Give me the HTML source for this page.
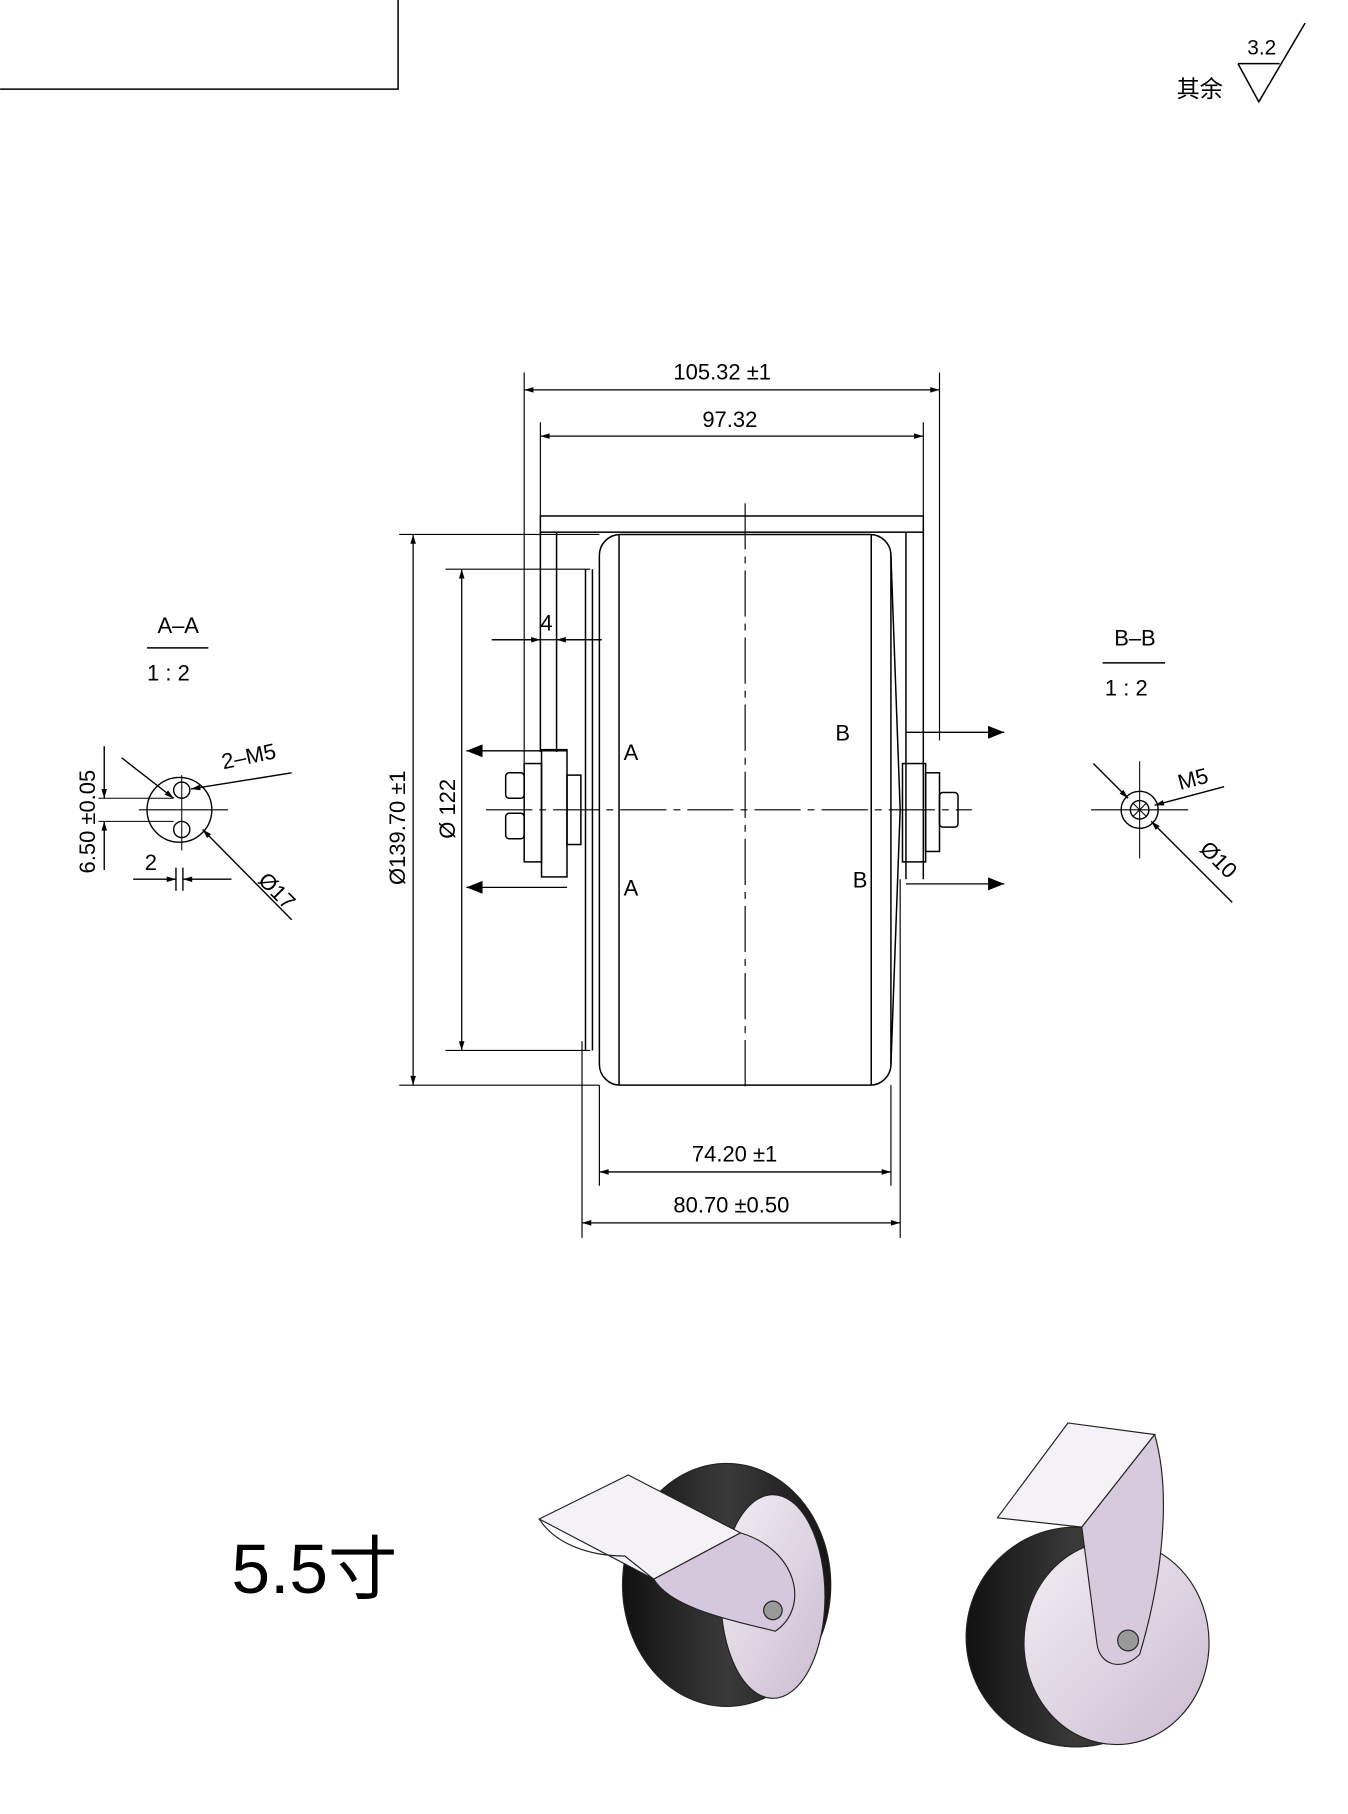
<!DOCTYPE html>
<html><head><meta charset="utf-8"><style>
html,body{margin:0;padding:0;background:#fff;}
svg{display:block;}
text{font-family:"Liberation Sans","Noto Sans CJK SC",sans-serif;fill:#000;}
.t{font-family:"Liberation Sans Narrow","Liberation Sans",sans-serif;font-size:19px;}
</style></head><body>
<svg width="1348" height="1814" viewBox="0 0 1165 1568" xmlns="http://www.w3.org/2000/svg">
<defs>
<marker id="a" viewBox="0 0 10 10" refX="10" refY="5" markerWidth="24" markerHeight="8" markerUnits="userSpaceOnUse" orient="auto-start-reverse"><path d="M0,2 L10,5 L0,8 Z" fill="#000"/></marker>
<marker id="b" viewBox="0 0 10 10" refX="10" refY="5" markerWidth="45" markerHeight="14" markerUnits="userSpaceOnUse" orient="auto"><path d="M0,1 L10,5 L0,9 Z" fill="#000"/></marker>
<linearGradient id="dk" x1="0" x2="1"><stop offset="0" stop-color="#111"/><stop offset=".5" stop-color="#3a3a3a"/><stop offset="1" stop-color="#151515"/></linearGradient>
<linearGradient id="pl" x1="0" x2="1" y1="0" y2="1"><stop offset="0" stop-color="#f3eef5"/><stop offset="1" stop-color="#cbbcd0"/></linearGradient>
</defs>
<g fill="none" stroke="#000" stroke-width="1.3">
<path d="M0,77 H344 V0"/>
<path d="M1070,55 L1088,88 L1128,20 M1070,55 H1106" />
</g>
<text x="1078" y="47" class="t" style="font-size:18px">3.2</text>
<text x="1017" y="84" style="font-size:20px">其余</text>

<g fill="none" stroke="#000" stroke-width="1.3">
<rect x="467" y="446" width="331" height="14"/>
<path d="M467,460 V650 M481,460 V650 M783,460 V760 M798,460 V760"/>
<rect x="518" y="462" width="252" height="476" rx="18"/>
<path d="M535,462 V938 M753,462 V938"/>
<path d="M506,492 V908 M512,492 V908"/>
<path d="M770,480 L778,700 L770,920"/>
<rect x="453" y="660" width="15" height="85"/>
<rect x="468" y="648" width="22" height="110"/>
<rect x="490" y="670" width="12" height="60"/>
<rect x="437" y="668" width="16" height="22" rx="3"/>
<rect x="437" y="703" width="16" height="22" rx="3"/>
<rect x="780" y="660" width="20" height="85"/>
<rect x="800" y="668" width="12" height="68"/>
<rect x="812" y="685" width="16" height="30" rx="3"/>
<path stroke-width="1" stroke-dasharray="40,6,6,6" d="M644,435 V945 M420,700 H840"/>
<g stroke-width="1">
<path d="M453,322 V660 M812,322 V640 M467,365 V446 M798,365 V446"/>
<path d="M345,462 H518 M345,938 H518 M385,492 H510 M385,908 H510"/>
<path d="M518,938 V1025 M770,938 V1025 M503,900 V1070 M778,760 V1070"/>
<path d="M425,553 H520"/>
</g>
<g stroke-width="1.1">
<path d="M453,337 H812" marker-start="url(#a)" marker-end="url(#a)"/>
<path d="M467,377 H798" marker-start="url(#a)" marker-end="url(#a)"/>
<path d="M357,462 V938" marker-start="url(#a)" marker-end="url(#a)"/>
<path d="M399,492 V908" marker-start="url(#a)" marker-end="url(#a)"/>
<path d="M518,1013 H770" marker-start="url(#a)" marker-end="url(#a)"/>
<path d="M503,1057 H778" marker-start="url(#a)" marker-end="url(#a)"/>
<path d="M425,553 H467" marker-end="url(#a)"/>
<path d="M481,553 H520" marker-start="url(#a)"/>
</g>
<g stroke-width="1.1">
<path d="M490,649 H403" marker-end="url(#b)"/>
<path d="M490,767 H403" marker-end="url(#b)"/>
<path d="M783,633 H868" marker-end="url(#b)"/>
<path d="M783,764 H868" marker-end="url(#b)"/>
</g>
</g>
<g class="t">
<text x="582" y="328" class="t">105.32 ±1</text>
<text x="607" y="369" class="t">97.32</text>
<text x="467" y="545" class="t">4</text>
<text x="598" y="1004" class="t">74.20 ±1</text>
<text x="582" y="1048" class="t">80.70 ±0.50</text>
<text x="539" y="657" class="t">A</text>
<text x="539" y="774" class="t">A</text>
<text x="722" y="640" class="t">B</text>
<text x="737" y="767" class="t">B</text>
<text transform="translate(350,765) rotate(-90)" class="t">Ø139.70 ±1</text>
<text transform="translate(393,725) rotate(-90)" class="t">Ø 122</text>
</g>

<text x="136" y="547" class="t">A–A</text>
<path d="M127,560 H180" stroke="#000" stroke-width="1.3"/>
<text x="127" y="588" class="t">1 : 2</text>
<g fill="none" stroke="#000" stroke-width="1.2">
<circle cx="155" cy="700" r="28"/>
<circle cx="157" cy="683" r="7"/>
<circle cx="157" cy="717" r="7"/>
<path d="M120,700 H197 M157,670 V735" stroke-width="0.9"/>
<path d="M85,690 H150 M85,710 H150" stroke-width="0.9"/>
<path d="M90,645 V690" marker-end="url(#a)"/>
<path d="M90,752 V710" marker-end="url(#a)"/>
<path d="M152,750 V770 M158,750 V770"/>
<path d="M115,760 H152" marker-end="url(#a)"/>
<path d="M200,760 H158" marker-end="url(#a)"/>
<path d="M105,655 L150,690" marker-end="url(#a)"/>
<path d="M252,668 L165,682" marker-end="url(#a)"/>
<path d="M252,795 L175,717" marker-end="url(#a)"/>
</g>
<text transform="translate(82,755) rotate(-90)" class="t">6.50 ±0.05</text>
<text x="125" y="752" class="t">2</text>
<text x="193" y="665" class="t" transform="rotate(-12 193 665)">2–M5</text>
<text x="222" y="762" class="t" transform="rotate(45 222 762)">Ø17</text>

<text x="963" y="558" class="t">B–B</text>
<path d="M953,573 H1007" stroke="#000" stroke-width="1.3"/>
<text x="955" y="601" class="t">1 : 2</text>
<g fill="none" stroke="#000" stroke-width="1.2">
<circle cx="985" cy="700" r="16"/>
<circle cx="985" cy="700" r="8"/>
<path d="M943,700 H1027 M985,658 V742" stroke-width="0.9"/>
<path d="M979,694 L991,706 M991,694 L979,706" stroke-width="0.9"/>
<path d="M945,660 L975,690" marker-end="url(#a)"/>
<path d="M1058,680 L998,696" marker-end="url(#a)"/>
<path d="M1065,780 L995,710" marker-end="url(#a)"/>
</g>
<text x="1020" y="683" class="t" transform="rotate(-15 1020 683)">M5</text>
<text x="1036" y="735" class="t" transform="rotate(45 1036 735)">Ø10</text>

<text x="200" y="1377" style="font-size:60px;font-family:'Liberation Sans','Noto Sans CJK SC',sans-serif">5.5寸</text>

<g stroke="#222" stroke-width="1">
<ellipse cx="628" cy="1370" rx="90" ry="105" fill="url(#dk)"/>
<ellipse cx="668" cy="1380" rx="45" ry="88" fill="url(#pl)"/>
<path d="M466,1313 L543,1275 L640,1325 L565,1365 Z" fill="#f4f2f6"/>
<path d="M565,1365 L640,1325 C690,1340 700,1390 670,1410 C630,1400 580,1390 565,1365Z" fill="#d6c8dc"/>
<path d="M466,1313 C480,1335 510,1345 540,1345 L565,1365" fill="none"/>
<circle cx="668" cy="1392" r="8" fill="#999"/>
</g>
<g stroke="#222" stroke-width="1">
<ellipse cx="930" cy="1415" rx="95" ry="95" fill="url(#dk)"/>
<ellipse cx="965" cy="1420" rx="80" ry="88" fill="url(#pl)"/>
<path d="M862,1312 L923,1230 L998,1240 L935,1320 Z" fill="#f4f2f6"/>
<path d="M935,1320 L998,1240 C1015,1300 1000,1380 985,1430 C970,1445 950,1440 948,1420 Z" fill="#d8cadd"/>
<circle cx="975" cy="1418" r="9" fill="#999"/>
</g>
</svg>
</body></html>
